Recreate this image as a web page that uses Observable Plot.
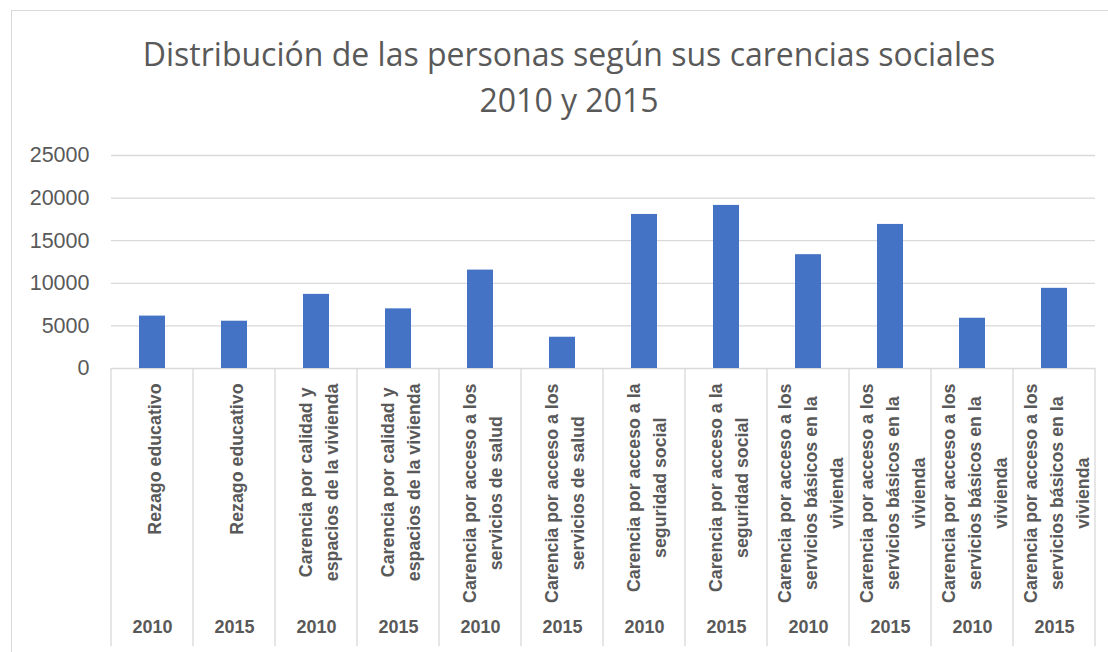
<!DOCTYPE html>
<html>
<head>
<meta charset="utf-8">
<script src="https://cdn.jsdelivr.net/npm/d3@7"></script>
<script src="https://cdn.jsdelivr.net/npm/@observablehq/plot@0.6"></script>
<style>
  html, body { margin: 0; padding: 0; background: #ffffff; overflow: hidden; }
  #box { position: absolute; left: 11px; top: 10px; width: 1200px; height: 700px; border: 1px solid #d9d9d9; box-sizing: border-box; }
  #title { position: absolute; left: 0; top: 31px; width: 1138px; text-align: center;
           font-family: "Open Sans", sans-serif; font-weight: 400; font-size: 32px; line-height: 45.7px; color: #595959; }
  #chart { position: absolute; left: 0; top: 140px; }
</style>
</head>
<body>
<div id="box"></div>
<div id="title">Distribución de las personas según sus carencias sociales<br>2010 y 2015</div>
<div id="chart"></div>
<script>
const years = ["2010", "2015", "2010", "2015", "2010", "2015", "2010", "2015", "2010", "2015", "2010", "2015"];
const categories = [
  "Rezago educativo",
  "Rezago educativo",
  "Carencia por calidad y\nespacios de la vivienda",
  "Carencia por calidad y\nespacios de la vivienda",
  "Carencia por acceso a los\nservicios de salud",
  "Carencia por acceso a los\nservicios de salud",
  "Carencia por acceso a la\nseguridad social",
  "Carencia por acceso a la\nseguridad social",
  "Carencia por acceso a los\nservicios básicos en la\nvivienda",
  "Carencia por acceso a los\nservicios básicos en la\nvivienda",
  "Carencia por acceso a los\nservicios básicos en la\nvivienda",
  "Carencia por acceso a los\nservicios básicos en la\nvivienda"
];
const values = [6150, 5550, 8700, 7000, 11550, 3670, 18080, 19140, 13360, 16910, 5900, 9410];
const yTicks = [0, 5000, 10000, 15000, 20000, 25000];

const rows = categories.map((c, i) => ({key: String(i), label: c, year: years[i], value: values[i]}));
const keys = rows.map(d => d.key);

const textColor = "#595959";
const gridColor = "#d9d9d9";
const labelFont = 17.8;

// measure label widths to place the longest line's end just below the axis
const ctx = document.createElement("canvas").getContext("2d");
ctx.font = `bold ${labelFont}px "Liberation Sans"`;
const widthOf = (s) => d3.max(s.split("\n"), l => ctx.measureText(l).width);

const W = 1108, H = 512;
const marginTop = 15, marginBottom = 284, marginLeft = 111, marginRight = 13;

// separators between categories, extending down through the label area
const separators = (index, scales, values, dims) => {
  const g = d3.create("svg:g");
  const x = scales.x;
  const bw = x.bandwidth();
  const edges = keys.map(k => x(k)).concat([x(keys[keys.length - 1]) + bw]);
  const y0 = dims.height - dims.marginBottom;
  const y1 = 506;
  g.selectAll("line").data(edges).join("line")
    .attr("x1", d => d).attr("x2", d => d)
    .attr("y1", y0).attr("y2", y1)
    .attr("stroke", gridColor).attr("stroke-width", 1.3);
  return g.node();
};

const labelMarks = rows.map(r => Plot.text([r], {
  x: "key", text: "label", frameAnchor: "bottom", rotate: -90,
  textAnchor: "middle", lineAnchor: "middle", lineHeight: 1.45,
  dy: 15 + widthOf(r.label) / 2,
  fontWeight: "bold", fontSize: labelFont, fill: textColor
}));

const chart = Plot.plot({
  width: W, height: H,
  marginTop, marginBottom, marginLeft, marginRight,
  style: {fontFamily: "'Liberation Sans', sans-serif", fontSize: "21.5px", color: textColor, background: "transparent", overflow: "visible"},
  x: {domain: keys, padding: 0, axis: null},
  y: {domain: [0, 25000]},
  marks: [
    Plot.ruleY(yTicks, {stroke: gridColor, strokeWidth: 1.3}),
    Plot.axisY({ticks: yTicks, tickFormat: d => String(d), tickSize: 0, tickPadding: 22, label: null, fontSize: 21.5, fill: textColor}),
    Plot.barY(rows, {x: "key", y: "value", fill: "#4472c4", insetLeft: 28, insetRight: 28}),
    separators,
    ...labelMarks,
    Plot.text(rows, {x: "key", text: "year", frameAnchor: "bottom", dy: 264, fontWeight: "bold", fontSize: 18, fill: textColor})
  ]
});
document.getElementById("chart").appendChild(chart);
</script>
</body>
</html>
